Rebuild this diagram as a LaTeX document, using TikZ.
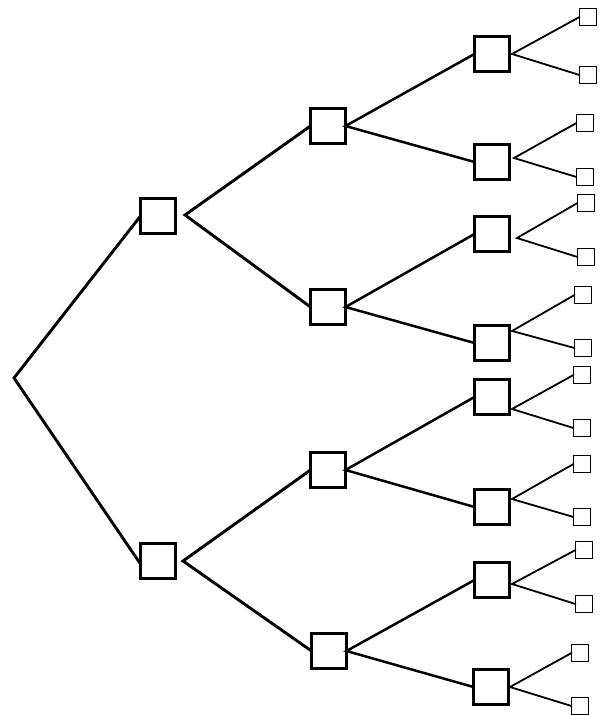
\documentclass[tikz,border=0pt]{standalone}
\begin{document}
\begin{tikzpicture}[x=1pt,y=-1pt,
  bigbox/.style={draw=black,line width=2.8pt,fill=white,minimum size=35pt,inner sep=0pt,outer sep=0pt},
  leafbox/.style={draw=black,line width=1.6pt,fill=white,minimum size=17pt,inner sep=0pt,outer sep=0pt},
  thickline/.style={line width=2.9pt,line cap=round},
  midline/.style={line width=2.5pt,line cap=round},
  thinline/.style={line width=1.8pt,line cap=round}]
\fill[white] (0,0) rectangle (600,715);
\useasboundingbox (0,0) rectangle (600,715);
\coordinate (r) at (14,378);
% level 1
\node[bigbox] (a1) at (158,216) {};
\node[bigbox] (a2) at (158,561) {};
% level 2
\node[bigbox] (b1) at (328,126) {};
\node[bigbox] (b2) at (328,307) {};
\node[bigbox] (b3) at (328,470) {};
\node[bigbox] (b4) at (329,651) {};
% level 3
\node[bigbox] (c1) at (492,54) {};
\node[bigbox] (c2) at (492,162) {};
\node[bigbox] (c3) at (492,234) {};
\node[bigbox] (c4) at (492,343) {};
\node[bigbox] (c5) at (492,397) {};
\node[bigbox] (c6) at (492,507) {};
\node[bigbox] (c7) at (492,580) {};
\node[bigbox] (c8) at (491,687) {};
% leaves
\node[leafbox] (d1) at (588,17) {};
\node[leafbox] (d2) at (588,75) {};
\node[leafbox] (d3) at (585,123) {};
\node[leafbox] (d4) at (585,177) {};
\node[leafbox] (d5) at (586,203) {};
\node[leafbox] (d6) at (586,257) {};
\node[leafbox] (d7) at (583,295) {};
\node[leafbox] (d8) at (583,348) {};
\node[leafbox] (d9) at (582,375) {};
\node[leafbox] (d10) at (582,428) {};
\node[leafbox] (d11) at (582,464) {};
\node[leafbox] (d12) at (582,517) {};
\node[leafbox] (d13) at (584,550) {};
\node[leafbox] (d14) at (584,604) {};
\node[leafbox] (d15) at (580,653) {};
\node[leafbox] (d16) at (580,706) {};
% branch points
\coordinate (a1s) at (185,215);
\coordinate (a2s) at (183,561);
\coordinate (c1s) at (512,54);
\coordinate (c2s) at (514,158);
\coordinate (c3s) at (517,238);
\coordinate (c4s) at (512,331);
\coordinate (c5s) at (512,409);
\coordinate (c6s) at (512,499);
\coordinate (c7s) at (512,584);
\coordinate (c8s) at (510,687);
% connectors
\draw[thickline] (a1.west) -- (r) -- ([yshift=-3pt]a2.west);
\draw[thickline] (b1.west) -- (a1s) -- (b2.west);
\draw[thickline] (b3.west) -- (a2s) -- (b4.west);
\draw[midline] (c1.west) -- (b1.east) -- (c2.west);
\draw[midline] (c3.west) -- (b2.east) -- (c4.west);
\draw[midline] (c5.west) -- (b3.east) -- (c6.west);
\draw[midline] (c7.west) -- (b4.east) -- (c8.west);
\draw[thinline] (d1.west) -- (c1s) -- (d2.west);
\draw[thinline] (d3.west) -- (c2s) -- (d4.west);
\draw[thinline] (d5.west) -- (c3s) -- (d6.west);
\draw[thinline] (d7.west) -- (c4s) -- (d8.west);
\draw[thinline] (d9.west) -- (c5s) -- (d10.west);
\draw[thinline] (d11.west) -- (c6s) -- (d12.west);
\draw[thinline] (d13.west) -- (c7s) -- (d14.west);
\draw[thinline] (d15.west) -- (c8s) -- (d16.west);
\end{tikzpicture}
\end{document}
